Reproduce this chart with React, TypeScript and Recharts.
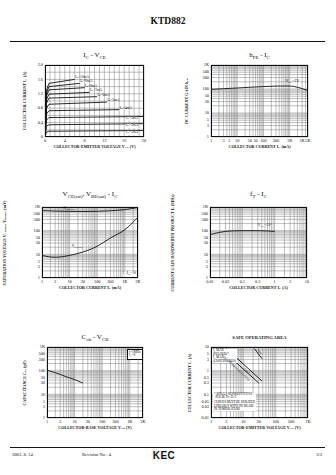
import React from 'react';
import { LineChart, Line, XAxis, YAxis, CartesianGrid } from 'recharts';

const SERIF = '"Liberation Serif", "DejaVu Serif", serif';

// ---- Ic - Vce family (Ib steps)
const ibNames = ['10mA', '9mA', '8mA', '7mA', '6mA', '5mA', '4mA', '3mA', '2mA', '1mA'];
const icKnee = [1.3, 1.22, 1.14, 1.04, 0.94, 0.8, 0.64, 0.47, 0.3, 0.14];
const icFlat = [1.49, 1.4, 1.31, 1.19, 1.08, 0.91, 0.73, 0.54, 0.34, 0.16];
const icEnd = [1.6, 1.49, 1.37, 1.24, 1.12, 0.97, 0.76, 0.57, 0.37, 0.18];
const vceEnd = [6, 7, 8, 9, 10.5, 12.5, 15, 20, 20, 20];
const vceLabels = [0, 4, 8, 12, 16, 20];
const icLabels = [0, 0.4, 0.8, 1.2, 1.6, 2.0];
const icLabelText = ['0', '0.4', '0.8', '1.2', '1.6', '2.0'];

// ---- hFE - Ic
const hfeIc = [1, 3, 10, 30, 100, 300, 1000, 2000, 5000];
const hfeVal = [97, 103, 110, 118, 126, 132, 133, 118, 85];
const hfeXLabels = [1, 3, 5, 10, 30, 50, 100, 300, 1000, 3000, 5000];
const hfeXText = ['1', '3', '5', '10', '30', '50', '100', '300', '1K', '3K', '5K'];

// shared 1..1K y labels
const kYLabels = [1, 3, 5, 10, 30, 50, 100, 300, 500, 1000];
const kYText = ['1', '3', '5', '10', '30', '50', '100', '300', '500', '1K'];

// ---- Vce(sat), Vbe(sat) - Ic
const satIc = [1, 3, 10, 30, 100, 300, 1000, 3000];
const vbeSat = [700, 670, 650, 645, 655, 690, 780, 950];
const vceSat = [9, 7.5, 9, 12.5, 22, 49, 110, 370];
const satXLabels = [1, 3, 10, 30, 100, 300, 1000, 3000];
const satXText = ['1', '3', '10', '30', '100', '300', '1K', '3K'];

// ---- fT - Ic
const ftIc = [0.01, 0.02, 0.03, 0.05, 0.1, 0.3, 1];
const ftVal = [68, 85, 93, 98, 100, 100, 93];
const ftXLabels = [0.01, 0.03, 0.1, 0.3, 1, 3, 10];
const ftXText = ['0.01', '0.03', '0.1', '0.3', '1', '3', '10'];

// ---- Cob - Vcb
const cobV = [1, 2, 3, 5, 10, 20];
const cobVal = [105, 82, 70, 55, 42, 30];

// ---- SOA
const soaDcV = [2, 30];
const soaDcI = [8.5, 0.3];
const soa10msV = [3, 38];
const soa10msI = [8.5, 0.36];
const soa1msV = [22, 38];
const soa1msI = [8.5, 3.2];
const soaXLabels = [1, 3, 10, 30, 100, 300, 1000];
const soaXText = ['1', '3', '10', '30', '100', '300', '1K'];
const soaYLabels = [0.01, 0.03, 0.05, 0.1, 0.3, 0.5, 1, 3, 5, 10];
const soaYText = ['0.01', '0.03', '0.05', '0.1', '0.3', '0.5', '1', '3', '5', '10'];

type Pt = { x: number; y: number };
const zip = (xs: number[], ys: number[]): Pt[] => xs.map((x, i) => ({ x, y: ys[i] }));
const pairs = (vs: number[], ts: string[]): [number, string][] => vs.map((v, i) => [v, ts[i]]);

function logGrid(a: number, b: number) {
  const out: number[] = [];
  for (let k = Math.floor(Math.log10(a)); k <= Math.ceil(Math.log10(b)); k++) {
    for (let d = 1; d <= 9; d++) {
      const v = Number((d * Math.pow(10, k)).toPrecision(6));
      if (v >= a * 0.9999 && v <= b * 1.0001) out.push(v);
    }
  }
  return out;
}
const linGrid = (a: number, b: number, s: number) => {
  const out: number[] = [];
  for (let v = a; v <= b + 1e-9; v += s) out.push(Number(v.toFixed(4)));
  return out;
};

const Sub = ({ children }: any) => (
  <span style={{ fontSize: '70%', verticalAlign: '-0.25em' }}>{children}</span>
);

function Txt({ x, y, size = 5, bold = false, align = 'center', rotate = 0, children, bg }: any) {
  const tx = align === 'center' ? '-50%' : align === 'right' ? '-100%' : '0';
  return (
    <div
      style={{
        position: 'absolute',
        left: x,
        top: y,
        transform: `translate(${tx},-50%) rotate(${rotate}deg)`,
        fontSize: size,
        fontWeight: bold ? 700 : 400,
        fontFamily: SERIF,
        whiteSpace: 'nowrap',
        lineHeight: 1.05,
        color: '#111',
        background: bg,
      }}
    >
      {children}
    </div>
  );
}

const makeTick = (labs: [number, string][], axis: 'x' | 'y') => (p: any) => {
  const v = p.payload.value;
  const m = labs.find(([lv]) => Math.abs(lv - v) <= Math.abs(lv) * 1e-6 + 1e-9);
  if (!m) return <g />;
  return axis === 'x' ? (
    <text x={p.x} y={p.y + 5.3} textAnchor="middle" fontSize={4.3} fontFamily={SERIF} fill="#111">
      {m[1]}
    </text>
  ) : (
    <text x={p.x - 2} y={p.y + 1.2} textAnchor="end" fontSize={4.3} fontFamily={SERIF} fill="#111">
      {m[1]}
    </text>
  );
};

type Cfg = { left: number; top: number; w: number; h: number; xd: number[]; yd: number[]; xlog: boolean; ylog: boolean };

const at = (c: Cfg, x: number, y: number) => {
  const fx = c.xlog ? Math.log(x / c.xd[0]) / Math.log(c.xd[1] / c.xd[0]) : (x - c.xd[0]) / (c.xd[1] - c.xd[0]);
  const fy = c.ylog ? Math.log(y / c.yd[0]) / Math.log(c.yd[1] / c.yd[0]) : (y - c.yd[0]) / (c.yd[1] - c.yd[0]);
  return [c.left + fx * c.w, c.top + (1 - fy) * c.h];
};

function Panel({ cfg, xGrid, yGrid, xLab, yLab, curves, title, titleDy = 9, xTitle, yTitle, yTitleDx = 21, xTitleDy = 9.6, curveType = 'monotone' }: any) {
  const { left, top, w, h, xd, yd, xlog, ylog } = cfg as Cfg;
  const padL = 30, padT = 3, padR = 8, padB = 10;
  return (
    <>
      <div style={{ position: 'absolute', left: left - padL, top: top - padT }}>
        <LineChart width={w + padL + padR} height={h + padT + padB} margin={{ top: padT, right: padR, bottom: 0, left: 0 }}>
          <CartesianGrid stroke="#7d7d7d" strokeWidth={0.5} />
          <XAxis
            type="number"
            dataKey="x"
            scale={xlog ? 'log' : 'linear'}
            domain={xd}
            ticks={xGrid}
            interval={0}
            allowDataOverflow
            height={padB}
            axisLine={false}
            tickLine={false}
            tickSize={0}
            tickMargin={0}
            tick={makeTick(xLab, 'x')}
          />
          <YAxis
            type="number"
            dataKey="y"
            scale={ylog ? 'log' : 'linear'}
            domain={yd}
            ticks={yGrid}
            interval={0}
            allowDataOverflow
            width={padL}
            axisLine={false}
            tickLine={false}
            tickSize={0}
            tickMargin={0}
            tick={makeTick(yLab, 'y')}
          />
          {curves.map((c: Pt[], i: number) => (
            <Line
              key={i}
              data={c}
              dataKey="y"
              type={curveType}
              stroke="#111"
              strokeWidth={0.9}
              dot={false}
              isAnimationActive={false}
            />
          ))}
        </LineChart>
      </div>
      <div
        style={{
          position: 'absolute',
          left,
          top,
          width: w,
          height: h,
          border: '1px solid #111',
          boxSizing: 'border-box',
          pointerEvents: 'none',
        }}
      />
      <Txt x={left + w / 2} y={top - titleDy} size={7}>{title}</Txt>
      <Txt x={left + w / 2} y={top + h + xTitleDy} size={4.1} bold>{xTitle}</Txt>
      <Txt x={left - yTitleDx} y={top + h / 2} size={4.1} bold rotate={-90}>{yTitle}</Txt>
    </>
  );
}

const P1: Cfg = { left: 45, top: 65, w: 99, h: 72, xd: [0, 20], yd: [0, 2], xlog: false, ylog: false };
const P2: Cfg = { left: 211, top: 65, w: 97, h: 72, xd: [1, 5000], yd: [1, 1000], xlog: true, ylog: true };
const P3: Cfg = { left: 42, top: 207, w: 96, h: 71, xd: [1, 3000], yd: [1, 1000], xlog: true, ylog: true };
const P4: Cfg = { left: 210, top: 207, w: 97, h: 71, xd: [0.01, 10], yd: [1, 1000], xlog: true, ylog: true };
const P5: Cfg = { left: 47, top: 347, w: 96, h: 71, xd: [1, 3000], yd: [1, 1000], xlog: true, ylog: true };
const P6: Cfg = { left: 211, top: 347, w: 97, h: 71, xd: [1, 1000], yd: [0.01, 10], xlog: true, ylog: true };

export default function App() {
  const ibCurves = ibNames.map((_, i) =>
    zip([0, 0.3, 0.8, vceEnd[i]], [0, icKnee[i], icFlat[i], icEnd[i]])
  );
  const [h2x, h2y] = at(P2, 700, 200);
  const [vbx, vby] = at(P3, 6, 850);
  const [vcx, vcy] = at(P3, 12, 20);
  const [ftx, fty] = at(P4, 0.3, 160);
  const [dcx, dcy] = at(P6, 6, 1.2);
  const [m10x, m10y] = at(P6, 12, 1.0);
  const [m1x, m1y] = at(P6, 30, 6);

  return (
    <div style={{ position: 'absolute', left: 0, top: 0, width: 336, height: 475, background: '#fff', overflow: 'hidden' }}>
      <Txt x={168} y={22} size={9.5} bold>KTD882</Txt>
      <div style={{ position: 'absolute', left: 10, top: 41, width: 315, height: 1.2, background: '#111' }} />

      <Panel
        cfg={P1}
        xGrid={linGrid(0, 20, 1)}
        yGrid={linGrid(0, 2, 0.2)}
        xLab={pairs(vceLabels, vceLabels.map(String))}
        yLab={pairs(icLabels, icLabelText)}
        curves={ibCurves}
        title={<>I<Sub>C</Sub> - V<Sub>CE</Sub></>}
        xTitle={<>COLLECTOR-EMITTER VOLTAGE V<Sub>CE</Sub> (V)</>}
        yTitle={<>COLLECTOR CURRENT I<Sub>C</Sub> (A)</>}
        yTitleDx={20}
        curveType="linear"
      />
      {ibNames.map((n, i) => {
        const [x, y] = at(P1, vceEnd[i], icEnd[i]);
        const low = vceEnd[i] >= 20;
        return (
          <Txt key={n} x={low ? x - 18 : x + 0.5} y={low ? y + 2.5 : y - 1} size={3.6} align="left" bg={low ? '#fff' : undefined}>
            I<Sub>B</Sub>={n}
          </Txt>
        );
      })}

      <Panel
        cfg={P2}
        xGrid={logGrid(1, 5000)}
        yGrid={logGrid(1, 1000)}
        xLab={pairs(hfeXLabels, hfeXText)}
        yLab={pairs(kYLabels, kYText)}
        curves={[zip(hfeIc, hfeVal)]}
        title={<>h<Sub>FE</Sub> - I<Sub>C</Sub></>}
        xTitle={<>COLLECTOR CURRENT I<Sub>C</Sub> (mA)</>}
        yTitle={<>DC CURRENT GAIN h<Sub>FE</Sub></>}
        yTitleDx={24}
      />
      <Txt x={h2x} y={h2y} size={4} align="left">V<Sub>CE</Sub>=2V</Txt>

      <Panel
        cfg={P3}
        xGrid={logGrid(1, 3000)}
        yGrid={logGrid(1, 1000)}
        xLab={pairs(satXLabels, satXText)}
        yLab={pairs(kYLabels, kYText)}
        curves={[zip(satIc, vbeSat), zip(satIc, vceSat)]}
        title={<>V<Sub>CE(sat)</Sub>, V<Sub>BE(sat)</Sub> - I<Sub>C</Sub></>}
        titleDy={12}
        xTitle={<>COLLECTOR CURRENT I<Sub>C</Sub> (mA)</>}
        yTitle={<>SATURATION VOLTAGE V<Sub>CE(sat)</Sub>, V<Sub>BE(sat)</Sub> (mV)</>}
        yTitleDx={37}
      />
      <Txt x={vbx} y={vby} size={3.8} align="left">V<Sub>BE(sat)</Sub></Txt>
      <Txt x={vcx} y={vcy} size={3.8} align="left">V<Sub>CE(sat)</Sub></Txt>
      <Txt x={P3.left + P3.w - 2} y={P3.top + P3.h - 4} size={3.8} align="right" bg="#fff">
        I<Sub>C</Sub>/I<Sub>B</Sub>=10
      </Txt>

      <Panel
        cfg={P4}
        xGrid={logGrid(0.01, 10)}
        yGrid={logGrid(1, 1000)}
        xLab={pairs(ftXLabels, ftXText)}
        yLab={pairs(kYLabels, kYText)}
        curves={[zip(ftIc, ftVal)]}
        title={<>f<Sub>T</Sub> - I<Sub>C</Sub></>}
        titleDy={12}
        xTitle={<>COLLECTOR CURRENT I<Sub>C</Sub> (A)</>}
        yTitle={<>CURRENT GAIN BANDWIDTH PRODUCT f<Sub>T</Sub> (MHz)</>}
        yTitleDx={37}
      />
      <Txt x={ftx} y={fty} size={4} align="left">V<Sub>CE</Sub>=5V</Txt>

      <Panel
        cfg={P5}
        xGrid={logGrid(1, 3000)}
        yGrid={logGrid(1, 1000)}
        xLab={pairs(satXLabels, satXText)}
        yLab={pairs(kYLabels, kYText)}
        curves={[zip(cobV, cobVal)]}
        title={<>C<Sub>ob</Sub> - V<Sub>CB</Sub></>}
        xTitle={<>COLLECTOR-BASE VOLTAGE V<Sub>CB</Sub> (V)</>}
        yTitle={<>CAPACITANCE C<Sub>ob</Sub> (pF)</>}
        yTitleDx={22}
      />
      <div style={{ position: 'absolute', left: 127, top: 349, border: '0.6px solid #111', background: '#fff', padding: '0.5px 1px' }}>
        <div style={{ fontSize: 3.4, fontFamily: SERIF, lineHeight: 1.1 }}>f=1MHz</div>
        <div style={{ fontSize: 3.4, fontFamily: SERIF, lineHeight: 1.1 }}>I<Sub>E</Sub>=0</div>
      </div>

      <Panel
        cfg={P6}
        xGrid={logGrid(1, 1000)}
        yGrid={logGrid(0.01, 10)}
        xLab={pairs(soaXLabels, soaXText)}
        yLab={pairs(soaYLabels, soaYText)}
        curves={[zip(soaDcV, soaDcI), zip(soa10msV, soa10msI), zip(soa1msV, soa1msI)]}
        title={<b style={{ fontSize: 4.6 }}>SAFE OPERATING AREA</b>}
        xTitle={<>COLLECTOR-EMITTER VOLTAGE V<Sub>CE</Sub> (V)</>}
        yTitle={<>COLLECTOR CURRENT I<Sub>C</Sub> (A)</>}
        yTitleDx={21}
        curveType="linear"
      />
      <div style={{ position: 'absolute', left: 212, top: 349, background: '#fff', fontSize: 3.2, fontFamily: SERIF, lineHeight: 1.1, padding: '0 1px' }}>
        <div>I<Sub>C</Sub> MAX</div>
        <div>(PULSED)*</div>
        <div>I<Sub>C</Sub> MAX</div>
        <div>(CONTINUOUS)</div>
      </div>
      <Txt x={dcx} y={dcy} size={3.2} rotate={43}>DC OPERATION Tc=25°C</Txt>
      <Txt x={m10x} y={m10y} size={3.2} rotate={43}>10ms*</Txt>
      <Txt x={m1x} y={m1y} size={3.2} rotate={62}>1ms*</Txt>
      <div style={{ position: 'absolute', left: 213, top: 393, background: '#fff', fontSize: 3.1, fontFamily: SERIF, lineHeight: 1.1, padding: '0 1px' }}>
        <div>* SINGLE NONREPETITIVE</div>
        <div>&nbsp;&nbsp;PULSE Tc=25°C</div>
        <div style={{ marginTop: 1.5 }}>CURVES MUST BE DERATED</div>
        <div>LINEARLY WITH INCREASE</div>
        <div>IN TEMPERATURE</div>
      </div>

      <div style={{ position: 'absolute', left: 10, top: 447, width: 315, height: 1.2, background: '#111' }} />
      <Txt x={12} y={455} size={4.6} align="left">2003. 8. 14</Txt>
      <Txt x={82} y={455} size={4.6} align="left">Revision No : 4</Txt>
      <div
        style={{
          position: 'absolute',
          left: 164,
          top: 455,
          transform: 'translate(-50%,-50%)',
          fontFamily: '"Liberation Sans", Arial, sans-serif',
          fontWeight: 700,
          fontSize: 10,
          letterSpacing: 0.5,
          color: '#111',
        }}
      >
        KEC
      </div>
      <Txt x={322} y={455} size={4.6} align="right">3/3</Txt>
    </div>
  );
}
